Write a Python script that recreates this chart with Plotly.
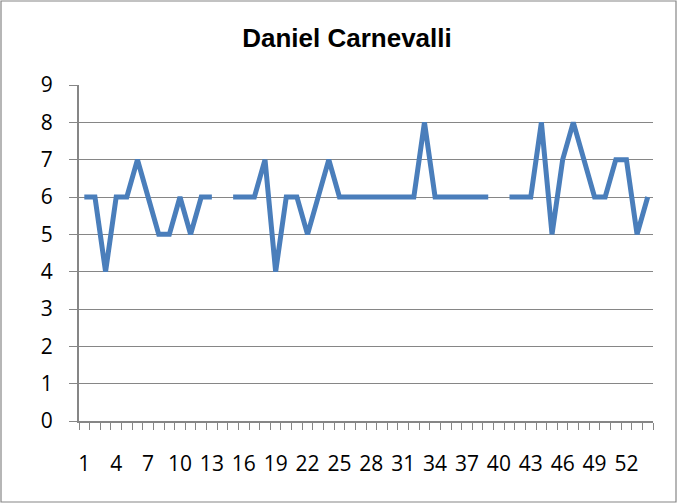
import plotly.graph_objects as go

title_text = "Daniel Carnevalli"
categories = list(range(1, 55))
values = [6, 6, 4, 6, 6, 7, 6, 5, 5, 6, 5, 6, 6, None, 6, 6, 6, 7, 4, 6,
          6, 5, 6, 7, 6, 6, 6, 6, 6, 6, 6, 6, 8, 6, 6, 6, 6, 6, 6, None,
          6, 6, 6, 8, 5, 7, 8, 7, 6, 6, 7, 7, 5, 6]
x_tick_labels = list(range(1, 55, 3))
y_ticks = list(range(0, 10))

W, H = 677, 504
L, R, T, B = 79, 24, 85, 83
pw, ph = W - L - R, H - T - B

fig = go.Figure()
fig.add_trace(go.Scatter(
    x=categories, y=values, mode="lines",
    line=dict(color="#4A7EBB", width=5),
    connectgaps=False, hoverinfo="skip", showlegend=False,
))

tick_font = dict(size=21, family="Open Sans, Noto Sans, sans-serif", color="black")

fig.update_layout(
    width=W, height=H,
    margin=dict(l=L, r=R, t=T, b=B),
    paper_bgcolor="white", plot_bgcolor="white",
    font=dict(family="Liberation Sans, Arial, sans-serif", size=16, color="black"),
    title=dict(text="<b>" + title_text + "</b>", x=347 / W, xanchor="center",
               y=1 - 38 / H, yanchor="middle",
               font=dict(size=26, family="Liberation Sans, Arial, sans-serif")),
    xaxis=dict(
        range=[0.5, 54.5], tickmode="array", tickvals=x_tick_labels,
        ticktext=[str(v) for v in x_tick_labels],
        ticks="", showgrid=False, zeroline=False,
        showline=True, linecolor="#868686", linewidth=2,
        ticklabelstandoff=23, tickfont=tick_font,
        minor=dict(tick0=0.5, dtick=1, ticks="outside", ticklen=7,
                   tickcolor="#868686", tickwidth=1.2, showgrid=False),
    ),
    yaxis=dict(
        range=[0, 9], tickmode="array", tickvals=y_ticks,
        ticks="outside", ticklen=8, tickcolor="#868686", tickwidth=1.2,
        showgrid=True, gridcolor="#868686", gridwidth=1.2,
        zeroline=False, showline=True, linecolor="#868686", linewidth=2,
        ticklabelstandoff=12, tickfont=tick_font,
    ),
    shapes=[dict(
        type="rect", xref="paper", yref="paper",
        x0=(1 - L) / pw, x1=(676 - L) / pw,
        y0=(H - B - 502) / ph, y1=(H - B - 1) / ph,
        line=dict(color="#868686", width=1.2), fillcolor="rgba(0,0,0,0)",
        layer="below",
    )],
)

fig.write_html("out.html", config={"displayModeBar": False},
               post_script="document.body.style.margin='0';document.body.style.overflow='hidden';")
